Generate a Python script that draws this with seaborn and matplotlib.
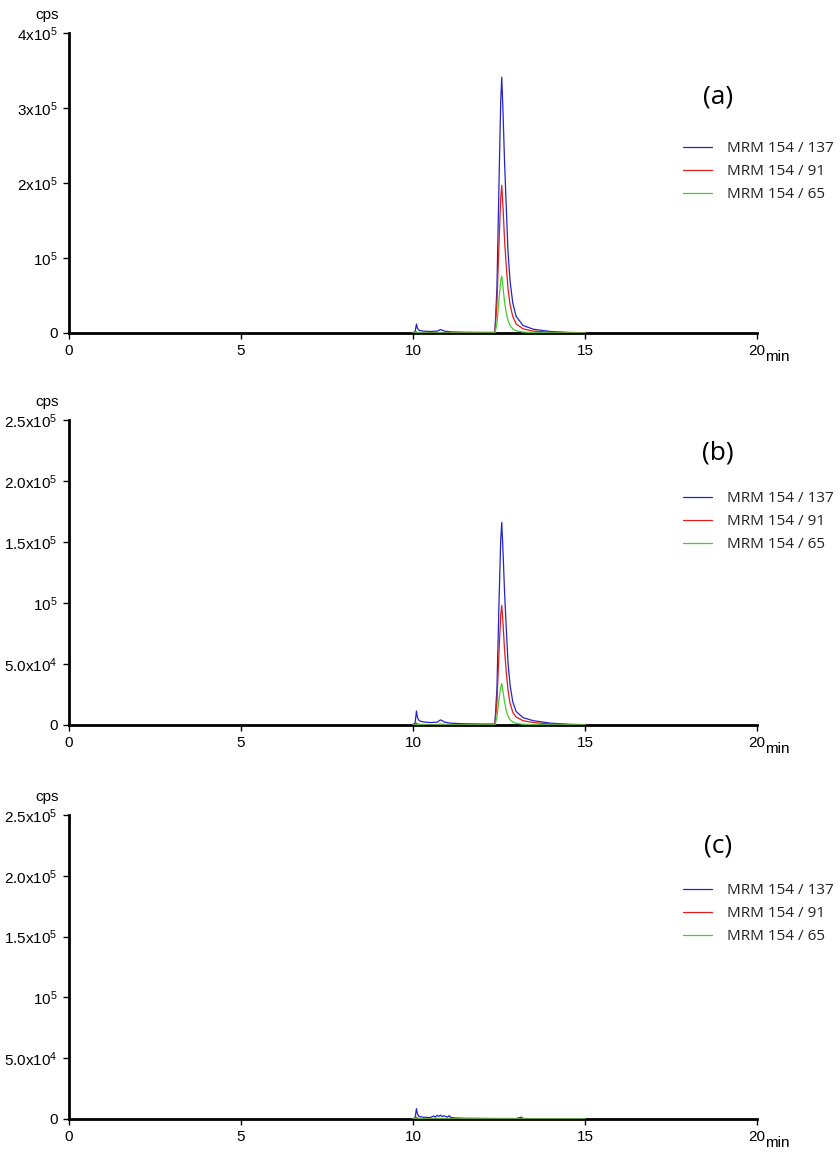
import pandas as pd
import numpy as np
import matplotlib
matplotlib.use("Agg")
import matplotlib.pyplot as plt
import seaborn as sns

# retention time grid (min) for panels (a) and (b)
time_ab = [10.0, 10.06, 10.1, 10.13, 10.18, 10.3, 10.5, 10.7, 10.8, 10.85, 10.92, 11.1, 11.5, 12.0,
           12.38, 12.44, 12.5, 12.55, 12.58, 12.62, 12.66, 12.71, 12.76, 12.82, 12.9, 13.0, 13.2,
           13.5, 14.0, 14.5, 15.0]

# panel (a) intensities, cps
blue_a = [500, 1500, 12000, 6000, 3500, 2500, 2000, 2500, 4500, 3800, 2500, 1500, 1000, 800,
          800, 60000, 200000, 310000, 341000, 290000, 230000, 170000, 110000, 70000, 40000, 22000, 10000,
          5000, 2000, 800, 300]
red_a = [200, 300, 1500, 800, 500, 400, 300, 300, 600, 500, 400, 300, 300, 300,
         300, 40000, 120000, 180000, 197000, 165000, 125000, 90000, 60000, 38000, 22000, 12000, 5500,
         2500, 1000, 500, 300]
green_a = [100, 150, 800, 400, 200, 150, 100, 100, 200, 150, 100, 100, 100, 100,
           100, 12000, 45000, 70000, 76000, 60000, 42000, 27000, 17000, 10000, 5500, 3000, 1200,
           500, 200, 100, 100]

# panel (b) intensities, cps
blue_b = [500, 1500, 11500, 6000, 3500, 2500, 2000, 2300, 4200, 3500, 2300, 1500, 1000, 800,
          800, 30000, 100000, 152000, 166000, 140000, 110000, 80000, 52000, 33000, 19000, 11000, 6000,
          3500, 1500, 600, 300]
red_b = [200, 300, 1500, 800, 500, 400, 300, 300, 600, 500, 400, 300, 300, 300,
         300, 18000, 60000, 90000, 98000, 82000, 62000, 44000, 29000, 18000, 10500, 6500, 3500,
         2000, 800, 400, 200]
green_b = [100, 150, 700, 400, 200, 150, 100, 100, 200, 150, 100, 100, 100, 100,
           100, 6000, 21000, 31000, 34000, 27000, 19000, 12000, 7500, 4500, 2500, 1400, 600,
           300, 100, 100, 100]

# panel (c): blank, only baseline noise
time_c = [10.0, 10.06, 10.1, 10.13, 10.18, 10.3, 10.5, 10.6, 10.65, 10.7, 10.75, 10.8, 10.85, 10.9,
          11.0, 11.05, 11.1, 11.2, 11.3, 11.5, 12.0, 12.5, 13.0, 13.15, 13.2, 13.5, 14.0, 14.5, 15.0]
blue_c = [300, 1000, 8500, 4000, 2000, 1500, 1200, 2500, 1500, 3000, 2200, 3200, 2000, 2600,
          1500, 2800, 1200, 900, 800, 600, 500, 400, 400, 1500, 400, 300, 300, 200, 200]
red_c = [150, 300, 1500, 700, 400, 300, 300, 400, 300, 500, 400, 500, 400, 400,
         300, 400, 300, 300, 250, 200, 200, 200, 200, 300, 200, 200, 200, 150, 150]
green_c = [100, 200, 1000, 400, 200, 150, 100, 150, 100, 200, 150, 200, 150, 150,
           100, 150, 100, 100, 100, 100, 100, 100, 100, 100, 100, 100, 100, 100, 100]

transitions = ["MRM 154 / 137", "MRM 154 / 91", "MRM 154 / 65"]
colors = ["#2424c8", "#e01c1c", "#44cc2c"]
panel_tags = ["(a)", "(b)", "(c)"]

yticks_a = [0, 1e5, 2e5, 3e5, 4e5]
ylabels_a = ["0", "10$^5$", "2x10$^5$", "3x10$^5$", "4x10$^5$"]
yticks_bc = [0, 5e4, 1e5, 1.5e5, 2e5, 2.5e5]
ylabels_bc = ["0", "5.0x10$^4$", "10$^5$", "1.5x10$^5$", "2.0x10$^5$", "2.5x10$^5$"]
xticks = [0, 5, 10, 15, 20]

sns.set_style("white")
plt.rcParams["font.family"] = ["Liberation Sans", "DejaVu Sans"]
plt.rcParams["mathtext.default"] = "regular"
for key in ["text.color", "xtick.color", "ytick.color", "axes.labelcolor"]:
    plt.rcParams[key] = "black"

W, H = 840, 1155
fig = plt.figure(figsize=(W / 100, H / 100), dpi=100)


def fx(px):
    return px / W


def fy(py):
    return 1 - py / H


def make_df(t, series):
    rows = []
    for name, vals in zip(transitions, series):
        rows.append(pd.DataFrame({"time": t, "cps": vals, "transition": name}))
    return pd.concat(rows, ignore_index=True)


# pixel layout: (axis top, axis bottom, tag y, legend top)
panels = [
    (make_df(time_ab, [blue_a, red_a, green_a]), 33, 333, 97, 141, yticks_a, ylabels_a),
    (make_df(time_ab, [blue_b, red_b, green_b]), 420, 725, 453, 491, yticks_bc, ylabels_bc),
    (make_df(time_c, [blue_c, red_c, green_c]), 815, 1119, 846, 883, yticks_bc, ylabels_bc),
]

for i, (df, top, bot, tag_y, leg_y, yt, yl) in enumerate(panels):
    ax = fig.add_axes([fx(69), fy(bot), fx(757) - fx(69), fy(top) - fy(bot)])
    sns.lineplot(data=df, x="time", y="cps", hue="transition", hue_order=transitions,
                 palette=colors, estimator=None, sort=False, lw=0.9, ax=ax)

    ax.set_xlim(0, 20)
    ax.set_ylim(0, yt[-1])
    ax.set_xticks(xticks)
    ax.set_xticklabels([str(v) for v in xticks])
    ax.set_yticks(yt)
    ax.set_yticklabels(yl)
    ax.set_xlabel("")
    ax.set_ylabel("")
    ax.tick_params(axis="both", direction="out", length=4, width=1, color="black",
                   labelsize=11, pad=4, bottom=True, left=True)

    for side in ["top", "right"]:
        ax.spines[side].set_visible(False)
    for side in ["left", "bottom"]:
        ax.spines[side].set_linewidth(2)
        ax.spines[side].set_color("black")
        ax.spines[side].set_zorder(1)

    handles, labels = ax.get_legend_handles_labels()
    leg = ax.legend(handles, labels, loc="upper left", bbox_to_anchor=(fx(683), fy(leg_y)),
                    bbox_transform=fig.transFigure, frameon=False, borderpad=0, borderaxespad=0,
                    handlelength=1.9, handletextpad=1.0, labelspacing=0.52,
                    prop={"family": ["Open Sans", "DejaVu Sans"], "size": 11})
    for txt in leg.get_texts():
        txt.set_color("#222222")

    fig.text(fx(718), fy(tag_y), panel_tags[i], ha="center", va="center", fontsize=19,
             family=["Open Sans", "DejaVu Sans"])
    fig.text(fx(47), fy(top - 18), "cps", ha="center", va="center", fontsize=11)
    fig.text(fx(777), fy(bot + 24), "min", ha="center", va="center", fontsize=11)

fig.savefig("out.png", dpi=100)
